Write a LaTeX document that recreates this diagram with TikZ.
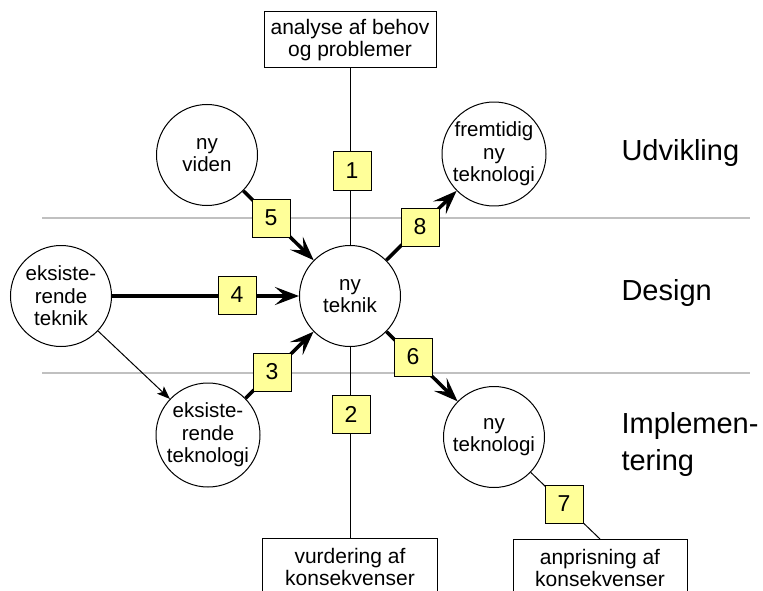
\documentclass[tikz,border=0pt]{standalone}
\usepackage{fontspec}
\setmainfont{Liberation Sans}
\usetikzlibrary{arrows.meta}
\pgfdeclarelayer{bg}
\pgfsetlayers{bg,main}
\definecolor{numfill}{RGB}{255,255,153}
\definecolor{bandline}{RGB}{192,192,192}

\begin{document}
\begin{tikzpicture}[x=1pt,y=-1pt,
  topic/.style={circle,draw,fill=white,minimum size=101pt,inner sep=0pt,
    align=center,line width=1pt,font=\fontsize{20.5}{22.5}\selectfont},
  numbox/.style={draw,fill=numfill,minimum size=38pt,inner sep=0pt,
    line width=1pt,font=\fontsize{23}{24}\selectfont},
  taskbox/.style={draw,fill=white,minimum width=172pt,minimum height=56pt,
    inner sep=0pt,align=center,line width=1pt,font=\fontsize{21}{22}\selectfont},
  phase/.style={anchor=west,align=left,font=\fontsize{29}{37}\selectfont},
  flow/.style={line width=3.5pt,-{Stealth[length=24pt,width=18pt,inset=10pt]}},
  link/.style={line width=1pt},
  band/.style={draw=bandline,line width=2pt}
]
\useasboundingbox (0,0) rectangle (763,591);

% phase separators
\coordinate (b1w) at (42,218);
\coordinate (b1e) at (750,218);
\coordinate (b2w) at (42,373);
\coordinate (b2e) at (750,373);

% tasks
\node[taskbox] (need) at (350,40) {analyse af behov\\og problemer};
\node[taskbox,anchor=north,minimum width=175pt,minimum height=56pt] (impact) at (350,538) {vurdering af\\konsekvenser};
\node[taskbox,anchor=north,minimum width=174pt,minimum height=56pt] (price) at (600,539) {anprisning af\\konsekvenser};

% topics
\node[topic] (core) at (350,296) {ny\\teknik};
\node[topic] (knowledge) at (207,155) {ny\\viden};
\node[topic] (future) at (494,154) {fremtidig\\ny\\teknologi};
\node[topic] (oldtech) at (61,296) {eksiste-\\rende\\teknik};
\node[topic] (oldtechnology) at (208,435) {eksiste-\\rende\\teknologi};
\node[topic] (newtech) at (494,437) {ny\\teknologi};

% numbered steps
\node[numbox] (n1) at (352,171) {1};
\node[numbox] (n2) at (351,414) {2};
\node[numbox] (n3) at (272,372) {3};
\node[numbox] (n4) at (237,295) {4};
\node[numbox] (n5) at (271,218) {5};
\node[numbox] (n6) at (413,357) {6};
\node[numbox] (n7) at (564,504) {7};
\node[numbox] (n8) at (420,227) {8};

% phases
\node[phase] (pdev) at (618,153) {Udvikling};
\node[phase] (pdes) at (618,293) {Design};
\node[phase] (pimp) at (618,444) {Implemen-\\tering};

\begin{pgfonlayer}{bg}
  \draw[band] (b1w) -- (b1e);
  \draw[band] (b2w) -- (b2e);
  \draw[link] (need) -- (core);
  \draw[link] (core) -- (impact);
  \draw[link] (newtech) -- (price.north);
  \draw[link,-{Stealth[length=13pt,width=10pt,inset=3pt]}] (oldtech) -- (oldtechnology);
  \draw[flow] (knowledge) -- (core);
  \draw[flow] (core) -- (future);
  \draw[flow,line width=4pt] (oldtech) -- (core);
  \draw[flow] (oldtechnology) -- (core);
  \draw[flow] (core) -- (newtech);
\end{pgfonlayer}
\end{tikzpicture}
\end{document}
